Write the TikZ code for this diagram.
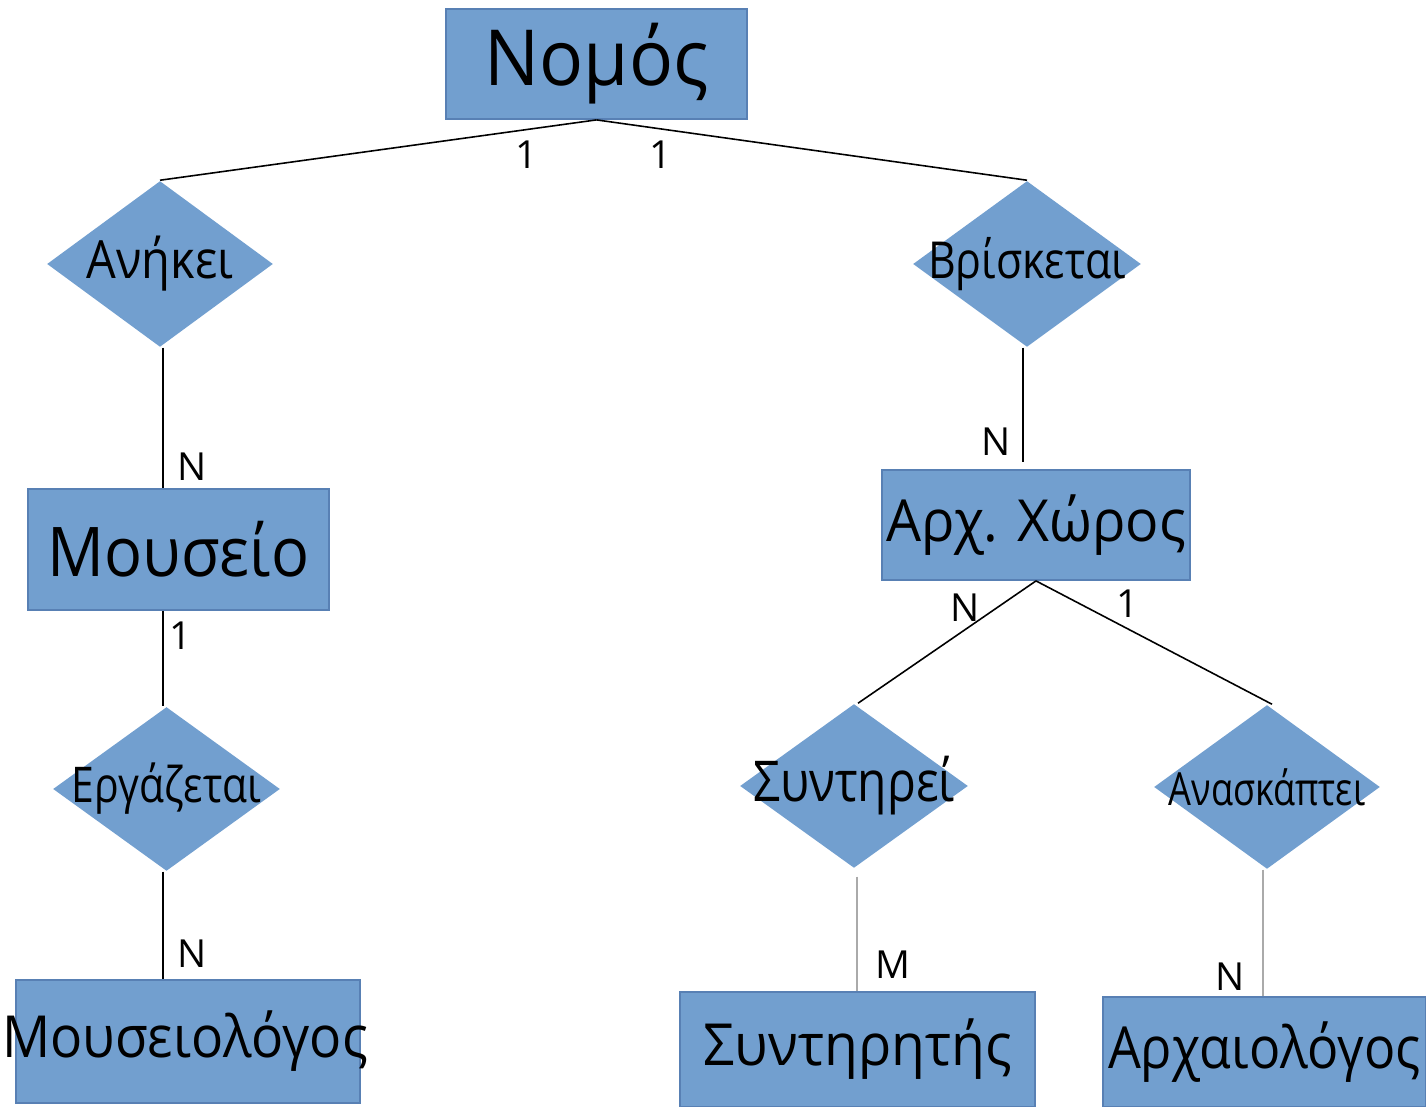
\documentclass[tikz,border=0pt]{standalone}
\usepackage{fontspec}
\setmainfont{Open Sans}
\usepackage{tikz}
\usetikzlibrary{shapes.geometric,positioning}

\definecolor{erfill}{RGB}{114,159,207}
\definecolor{erborder}{RGB}{88,128,180}
\definecolor{lnkgray}{RGB}{170,170,170}

% size and horizontal squeeze of a label
\newcommand{\fs}[2]{\fontsize{#1}{#1}\selectfont\addfontfeatures{FakeStretch=#2}}

\tikzset{
  entity/.style = {rectangle, draw = erborder, fill = erfill, line width = 0.5pt, inner sep = 0pt},
  relation/.style = {diamond, fill = erfill, inner sep = 0pt},
  card/.style = {font = \fs{11}{1}, inner sep = 0pt},
  link/.style = {line width = 0.45pt, black},
  glink/.style = {line width = 0.6pt, lnkgray}
}

\begin{document}
\begin{tikzpicture}[x = 0.01cm, y = -0.01cm]
\useasboundingbox (0,0) rectangle (1426,1107);

% entities
\node[entity, minimum width = 3.01cm, minimum height = 1.10cm, font = \fs{22}{0.945}] (nomos) at (596.5,64) {\makebox[0pt]{Νομός}};
\node[entity, minimum width = 3.01cm, minimum height = 1.21cm, font = \fs{19.5}{0.92}] (mouseio) at (178.5,549.5) {\makebox[0pt]{Μουσείο}};
\node[entity, minimum width = 3.44cm, minimum height = 1.23cm, font = \fs{16.5}{0.92}] (mouseiologos) at (188,1041.5) {\makebox[0pt]{\hspace{-0.06cm}Μουσειολόγος}};
\node[entity, minimum width = 3.08cm, minimum height = 1.10cm, font = \fs{16.5}{0.955}] (xoros) at (1036,525) {\makebox[0pt]{Αρχ. Χώρος}};
\node[entity, minimum width = 3.55cm, minimum height = 1.15cm, font = \fs{16.5}{0.95}] (syntiritis) at (857.5,1049.5) {\makebox[0pt]{Συντηρητής}};
\node[entity, minimum width = 3.23cm, minimum height = 1.10cm, font = \fs{16.5}{0.895}] (arxaiologos) at (1264.5,1052) {\makebox[0pt]{Αρχαιολόγος}};

% relations
\node[relation, minimum width = 2.26cm, minimum height = 1.66cm, font = \fs{15}{0.89}] (anikei) at (160,264) {\makebox[0pt]{Ανήκει}};
\node[relation, minimum width = 2.28cm, minimum height = 1.66cm, font = \fs{14.5}{0.84}] (vrisketai) at (1027,264) {\makebox[0pt]{Βρίσκεται}};
\node[relation, minimum width = 2.27cm, minimum height = 1.64cm, font = \fs{14}{0.83}] (ergazetai) at (166.5,789) {\makebox[0pt]{Εργάζεται}};
\node[relation, minimum width = 2.28cm, minimum height = 1.64cm, font = \fs{16}{0.85}] (syntirei) at (854,786) {\makebox[0pt]{Συντηρεί}};
\node[relation, minimum width = 2.26cm, minimum height = 1.64cm, font = \fs{13}{0.79}] (anaskaptei) at (1267,787) {\makebox[0pt]{Ανασκάπτει}};

% connectors
\draw[link] (nomos.south) -- (anikei.north);
\draw[link] (nomos.south) -- (vrisketai.north);
\draw[link] ([xshift=0.03cm]anikei.south) -- ([xshift=0.03cm]anikei.south |- mouseio.north);
\draw[link] ([xshift=-0.035cm]ergazetai.north |- mouseio.south) -- ([xshift=-0.035cm]ergazetai.north);
\draw[link] ([xshift=-0.035cm]ergazetai.south) -- ([xshift=-0.035cm]ergazetai.south |- mouseiologos.north);
\draw[link] ([xshift=-0.04cm]vrisketai.south) -- ([xshift=-0.04cm,yshift=0.07cm]vrisketai.south |- xoros.north);
\draw[link] (xoros.south) -- ([xshift=0.04cm]syntirei.north);
\draw[link] (xoros.south) -- ([xshift=0.05cm]anaskaptei.north);
\draw[glink] ([xshift=0.03cm,yshift=-0.08cm]syntirei.south) -- ([xshift=0.03cm]syntirei.south |- syntiritis.north);
\draw[glink] ([xshift=-0.04cm]anaskaptei.south) -- ([xshift=-0.04cm]anaskaptei.south |- arxaiologos.north);

% cardinalities
\node[card] (c1) at (527,155) {1};
\node[card] (c2) at (661,155) {1};
\node[card] (c3) at (192,467) {N};
\node[card] (c4) at (181,636) {1};
\node[card] (c5) at (192,954) {N};
\node[card] (c6) at (996,442) {N};
\node[card] (c7) at (965,608) {N};
\node[card] (c8) at (1128,604) {1};
\node[card] (c9) at (893,965) {M};
\node[card] (c10) at (1230,977) {N};

\end{tikzpicture}
\end{document}
